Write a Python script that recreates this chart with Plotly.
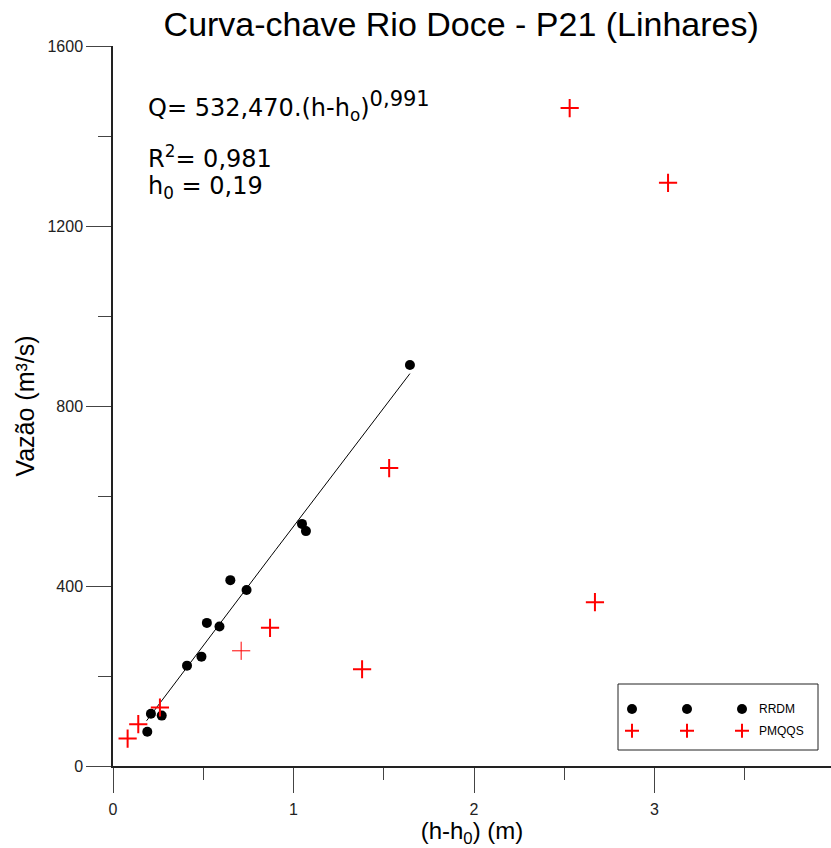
import plotly.graph_objects as go

# RRDM gauging campaigns: (h - h0) in metres, discharge in m³/s
rrdm_h = [0.19, 0.21, 0.27, 0.41, 0.49, 0.52, 0.59, 0.65, 0.74, 1.047, 1.069, 1.645]
rrdm_q = [76, 116, 112, 223, 243, 318, 310, 413, 391, 538, 522, 891]

# PMQQS gaugings
pmqqs_h = [0.081, 0.14, 0.26, 0.71, 0.87, 1.38, 1.53, 2.67, 2.53, 3.075]
pmqqs_q = [61, 93, 130, 256, 307, 215, 662, 364, 1462, 1296]
pmqqs_lw = [2, 2, 2, 1, 2, 2, 2, 2, 2, 2]

# Rating curve parameters
coef_a = 532.470
expo_b = 0.991

x_ticks = [0, 1, 2, 3, 4]
y_ticks = [0, 400, 800, 1200, 1600]

# Fitted curve over the RRDM range
n = 60
h_lo, h_hi = 0.186, max(rrdm_h)
fit_h = [h_lo + (h_hi - h_lo) * i / (n - 1) for i in range(n)]
fit_q = [coef_a * h ** expo_b for h in fit_h]

FONT = "Liberation Sans, Arial, sans-serif"
EQ_FONT = "DejaVu Sans, Verdana, sans-serif"

fig = go.Figure()

fig.add_trace(go.Scatter(
    x=fit_h, y=fit_q, mode="lines",
    line=dict(color="black", width=1), showlegend=False, hoverinfo="skip"))

fig.add_trace(go.Scatter(
    x=rrdm_h, y=rrdm_q, mode="markers", name="RRDM",
    marker=dict(symbol="circle", size=10, color="black"), showlegend=False))

fig.add_trace(go.Scatter(
    x=pmqqs_h, y=pmqqs_q, mode="markers", name="PMQQS",
    marker=dict(symbol="cross-thin", size=13,
                line=dict(color="red", width=pmqqs_lw)),
    showlegend=False))

# Key box drawn on its own small axes
leg_x = [0.07, 0.345, 0.62]
fig.add_trace(go.Scatter(
    x=leg_x, y=[0.62] * 3, mode="markers", xaxis="x2", yaxis="y2",
    marker=dict(symbol="circle", size=10, color="black"),
    showlegend=False, hoverinfo="skip"))
fig.add_trace(go.Scatter(
    x=leg_x, y=[0.29] * 3, mode="markers", xaxis="x2", yaxis="y2",
    marker=dict(symbol="cross-thin", size=10, line=dict(color="red", width=2)),
    showlegend=False, hoverinfo="skip"))

W, H = 831, 848
L, T, B = 113, 46, 82
pw, ph = W - L, H - T - B


def px_x(p):
    return (p - L) / pw


def px_y(p):
    return (H - B - p) / ph


axis_common = dict(
    showgrid=False, zeroline=False, showline=True, linecolor="#222", linewidth=1.5,
    ticks="outside", ticklen=25, tickwidth=1, tickcolor="#444",
    tickfont=dict(family=FONT, size=16, color="#222"),
)

fig.update_layout(
    width=W, height=H,
    margin=dict(l=L, r=0, t=T, b=B),
    paper_bgcolor="white", plot_bgcolor="white",
    font=dict(family=FONT, color="black"),
    title=dict(text="Curva-chave Rio Doce - P21 (Linhares)",
               font=dict(family=FONT, size=34, color="black"),
               x=0.555, xanchor="center", y=0.972, yanchor="middle"),
    xaxis=dict(range=[0, (W - L) / 180.5], tickvals=x_ticks, ticklabelstandoff=3,
               minor=dict(dtick=0.5, ticklen=12, tickcolor="#444", ticks="outside"),
               title=dict(text="(h-h<sub>0</sub>) (m)", font=dict(family=FONT, size=24),
                          standoff=7),
               **axis_common),
    yaxis=dict(range=[0, 1600], tickvals=y_ticks, ticksuffix="\u00a0\u00a0",
               minor=dict(dtick=200, ticklen=13, tickcolor="#444", ticks="outside"),
               title=dict(text="Vazão (m³/s)", font=dict(family=FONT, size=25),
                          standoff=6),
               **axis_common),
    xaxis2=dict(domain=[px_x(618), px_x(818)], range=[0, 1], visible=False,
                anchor="y2"),
    yaxis2=dict(domain=[px_y(750), px_y(684)], range=[0, 1], visible=False,
                anchor="x2"),
    showlegend=False,
)

fig.add_shape(type="rect", xref="paper", yref="paper",
              x0=px_x(618), x1=px_x(818), y0=px_y(750), y1=px_y(684),
              line=dict(color="#222", width=1), fillcolor="rgba(0,0,0,0)")

for label, yy in [("RRDM", 0.62), ("PMQQS", 0.29)]:
    fig.add_annotation(x=0.695, y=yy, xref="x2", yref="y2", text=label,
                       showarrow=False, xanchor="left", yanchor="middle",
                       font=dict(family=FONT, size=12, color="black"))

eq_lines = [
    ("Q= 532,470.(h-h<sub>o</sub>)<sup><span style='font-size:21px'>0,991</span></sup>", 106),
    ("R<sup>2</sup>= 0,981", 157),
    ("h<sub>0</sub> = 0,19", 188),
]
for txt, yp in eq_lines:
    fig.add_annotation(x=px_x(146), y=px_y(yp), xref="paper", yref="paper",
                       text=txt, showarrow=False, xanchor="left", yanchor="middle",
                       font=dict(family=EQ_FONT, size=24, color="black"))

fig.write_html("out.html")
